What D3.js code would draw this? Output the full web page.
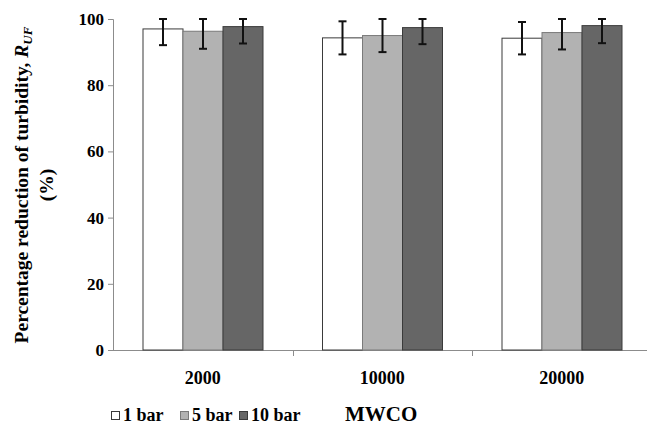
<!DOCTYPE html>
<html>
<head>
<meta charset="utf-8">
<script src="https://d3js.org/d3.v7.min.js"></script>
<style>
  body { margin: 0; background: #fff; }
  text { font-family: "Liberation Serif", "Times New Roman", serif; font-weight: bold; fill: #000; }
</style>
</head>
<body>
<script>
// data
const categories = ["2000", "10000", "20000"];
const pressures = ["1 bar", "5 bar", "10 bar"];
const values = [
  [97.0, 96.3, 97.7],   // 2000
  [94.3, 95.0, 97.4],   // 10000
  [94.2, 95.9, 98.0]    // 20000
];
const errors = [
  [4.9, 5.3, 5.1],
  [5.0, 5.0, 5.0],
  [4.9, 5.1, 5.3]
];
const yTicks = [0, 20, 40, 60, 80, 100];

const W = 647, H = 425;
const fills = ["#ffffff", "#b2b2b2", "#666666"];
const strokes = ["#3a3a3a", "#7a7a7a", "#3a3a3a"];

const svg = d3.select("body").append("svg")
  .attr("width", W).attr("height", H);

const x0 = d3.scaleBand().domain(categories).range([113, 651.5]);
const x1 = d3.scaleBand().domain(pressures).range([30, 150]);
const y = d3.scaleLinear().domain([0, 100]).range([350, 19]);

// y axis
const yAxis = svg.append("g").attr("transform", "translate(113,0)")
  .call(d3.axisLeft(y).tickValues(yTicks).tickSize(5).tickPadding(4));
yAxis.select(".domain").attr("stroke", "#8c8c8c").attr("d", "M-5,19.5H0.5V350");
yAxis.selectAll(".tick line").attr("stroke", "#8c8c8c");
yAxis.selectAll(".tick text").attr("font-size", 17).attr("font-family", "Liberation Serif")
  .attr("font-weight", "bold").attr("fill", "#000");

// x axis line and boundary ticks
svg.append("line").attr("x1", 113).attr("x2", W).attr("y1", 350.5).attr("y2", 350.5)
  .attr("stroke", "#8c8c8c");
svg.selectAll(".xtick").data(categories.slice(1)).enter().append("line")
  .attr("x1", d => Math.round(x0(d)) + 0.5).attr("x2", d => Math.round(x0(d)) + 0.5)
  .attr("y1", 350).attr("y2", 356).attr("stroke", "#8c8c8c");
svg.selectAll(".xlab").data(categories).enter().append("text")
  .attr("x", d => x0(d) + x0.bandwidth() / 2).attr("y", 384)
  .attr("text-anchor", "middle").attr("font-size", 18).text(d => d);

// bars
const groups = svg.selectAll(".grp").data(categories).enter().append("g")
  .attr("transform", d => `translate(${x0(d)},0)`);
groups.each(function(c, ci) {
  const g = d3.select(this);
  pressures.forEach((p, pi) => {
    const v = values[ci][pi];
    g.append("rect")
      .attr("x", x1(p)).attr("width", x1.bandwidth())
      .attr("y", y(v)).attr("height", y(0) - y(v))
      .attr("fill", fills[pi]).attr("stroke", strokes[pi]).attr("stroke-width", 1);
  });
  pressures.forEach((p, pi) => {
    const v = values[ci][pi], e = errors[ci][pi];
    const cx = x1(p) + x1.bandwidth() / 2;
    const top = y(Math.min(100, v + e)), bot = y(v - e);
    g.append("line").attr("x1", cx).attr("x2", cx).attr("y1", top).attr("y2", bot)
      .attr("stroke", "#111").attr("stroke-width", 2);
    [top, bot].forEach(yy => g.append("line")
      .attr("x1", cx - 4).attr("x2", cx + 4).attr("y1", yy).attr("y2", yy)
      .attr("stroke", "#111").attr("stroke-width", 2));
  });
});

// y title
const yt = svg.append("text").attr("transform", "translate(28,185) rotate(-90)")
  .attr("text-anchor", "middle").attr("font-size", 19.5);
yt.append("tspan").text("Percentage reduction of turbidity, ");
yt.append("tspan").attr("font-style", "italic").text("R");
yt.append("tspan").attr("font-style", "italic").attr("font-size", 13).attr("dy", 4).text("UF");
svg.append("text").attr("transform", "translate(53,185) rotate(-90)")
  .attr("text-anchor", "middle").attr("font-size", 19.5).text("(%)");

// legend
const legX = [111, 180, 239];
const leg = svg.selectAll(".leg").data(pressures).enter().append("g")
  .attr("transform", (d, i) => `translate(${legX[i]},0)`);
leg.append("rect").attr("x", 0.5).attr("y", 411.5).attr("width", 8).attr("height", 8)
  .attr("fill", (d, i) => fills[i]).attr("stroke", (d, i) => strokes[i]);
leg.append("text").attr("x", 12).attr("y", 420.5).attr("font-size", 18).text(d => d);

svg.append("text").attr("x", 345).attr("y", 420.5).attr("font-size", 21).text("MWCO");
</script>
</body>
</html>
